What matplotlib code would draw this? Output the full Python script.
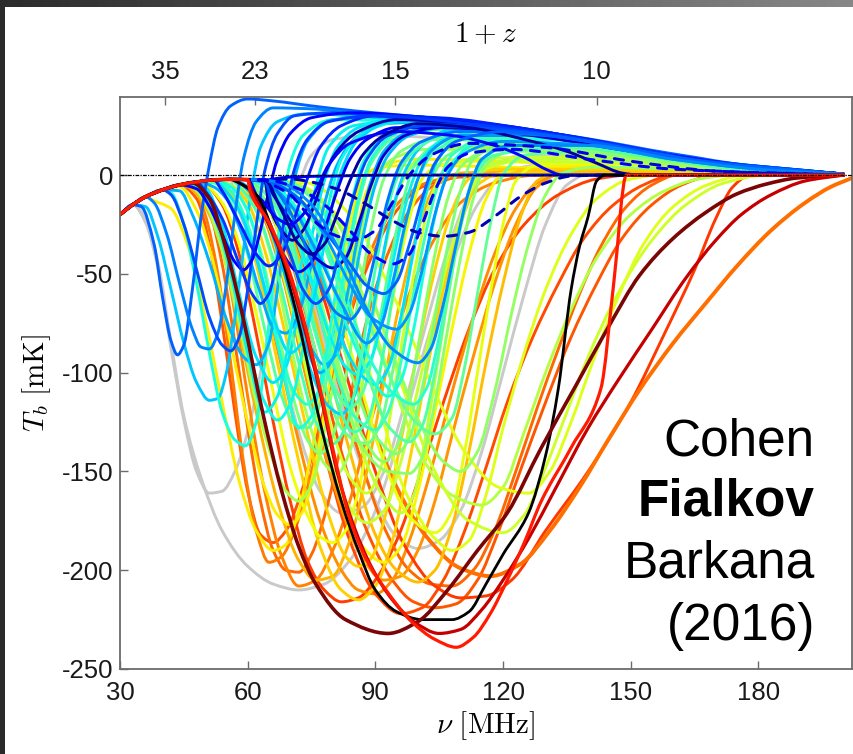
import numpy as np
import matplotlib
matplotlib.use("Agg")
import matplotlib.pyplot as plt
from matplotlib.path import Path
from matplotlib.patches import PathPatch

plt.rcParams['mathtext.fontset'] = 'cm'
plt.rcParams['axes.unicode_minus'] = False
plt.rcParams['font.family'] = ['Liberation Sans', 'DejaVu Sans']

# shared high-redshift part of every curve (nu [MHz], T_b [mK])
ENV_NU = [30, 33, 36, 40, 44, 48, 52, 56, 60, 64]
ENV_T = [-20, -15, -11, -7.5, -5, -3.5, -2.5, -2.2, -2.3, -2.6]

# each curve continues from the shared part with its own (nu, T_b) points
GRAY_CURVES = [
    [(36, -24), (39, -48), (42, -88), (45, -124), (48, -150), (51, -161), (54, -160), (57, -150), (60, -130),
     (63, -100), (66, -65), (69, -30), (72, -5), (75, 10), (80, 18), (90, 20), (110, 18), (130, 14), (150, 9),
     (170, 4), (200, 0.3)],
    [(36, -22), (39, -45), (42, -85), (45, -122), (49, -153), (54, -180), (60, -198), (66, -207), (72, -210),
     (78, -207), (84, -195), (90, -170), (96, -130), (102, -85), (108, -45), (114, -15), (120, 0), (128, 5),
     (150, 3), (200, 0)],
    [(66, -12), (72, -40), (78, -85), (84, -130), (90, -165), (95, -183), (100, -189), (105, -185), (110, -170),
     (115, -140), (120, -100), (125, -60), (130, -25), (135, -5), (142, 2), (160, 2), (200, 0)],
    [(57, -12), (62, -40), (67, -85), (72, -130), (77, -160), (82, -171), (87, -168), (92, -150), (97, -115),
     (102, -75), (107, -38), (112, -10), (117, 4), (125, 10), (145, 8), (170, 3), (200, 0)],
]

CYAN_CURVES = [
    [(36, -16), (39, -32), (42, -58), (45, -85), (48, -105), (51, -114), (53, -113), (55, -100), (57, -72),
     (59, -38), (61, -6), (63, 14), (67, 27), (74, 31), (90, 29), (110, 25), (130, 20), (150, 13), (170, 6),
     (200, 0.5)],
    [(42, -9), (45, -25), (48, -55), (51, -90), (54, -120), (57, -134), (59.5, -137), (62, -125), (64, -95),
     (66, -55), (68, -18), (70, 6), (73, 20), (80, 28), (100, 27), (120, 23), (140, 17), (160, 10), (180, 4),
     (200, 0.5)],
    [(50, -6), (54, -25), (58, -60), (62, -92), (66, -105), (69, -97), (72, -68), (75, -32), (78, -3), (81, 14),
     (86, 24), (95, 28.5), (115, 26), (135, 20), (155, 12), (175, 5), (200, 0.5)],
    [(56, -8), (60, -25), (64, -58), (68, -93), (71, -110), (74, -116), (77, -108), (80, -80), (83, -45),
     (86, -12), (89, 8), (94, 20), (102, 26), (120, 24), (140, 18), (160, 10), (180, 4), (200, 0.5)],
    [(61, -8), (65, -24), (70, -60), (75, -100), (79, -117), (82, -121), (85, -112), (88, -85), (91, -50),
     (94, -18), (97, 2), (101, 15), (108, 23), (125, 22), (145, 16), (165, 8), (200, 0.5)],
    [(66, -8), (70, -25), (75, -55), (80, -95), (85, -122), (90, -129), (93, -120), (96, -95), (99, -60),
     (102, -28), (105, -3), (108, 10), (115, 18), (130, 19), (150, 12), (170, 6), (200, 0.5)],
    [(52, -6), (55, -12), (59, -32), (63, -60), (66, -77), (69, -80), (72, -70), (75, -45), (78, -15), (81, 5),
     (85, 18), (92, 26), (110, 27), (130, 21), (150, 14), (170, 6), (200, 0.5)],
    [(58, -4), (61, -10), (66, -30), (71, -65), (75, -88), (78, -96), (81, -90), (84, -65), (87, -32), (90, -5),
     (93, 10), (98, 20), (110, 25), (130, 21), (150, 14), (170, 6), (200, 0.5)],
    [(66, -8), (71, -28), (76, -60), (80, -85), (83, -97), (86, -101), (89, -93), (92, -68), (95, -35),
     (98, -8), (101, 8), (106, 18), (115, 22), (135, 19), (155, 12), (175, 5), (200, 0.5)],
    [(44, -8), (47, -20), (51, -44), (55, -73), (59, -92), (62, -96), (65, -85), (67, -58), (69, -28), (71, -2),
     (74, 17), (80, 28), (95, 30), (115, 25.5), (135, 20), (155, 12), (175, 5), (200, 0.5)],
    [(48, -6), (52, -20), (56, -50), (60, -88), (64, -115), (67, -124), (70, -116), (73, -88), (76, -50),
     (79, -15), (82, 8), (87, 21), (96, 27), (115, 25), (135, 19), (155, 11), (175, 5), (200, 0.5)],
    [(66, -5), (72, -20), (78, -55), (83, -88), (87, -102), (90, -106), (93, -98), (96, -72), (99, -38),
     (102, -8), (105, 9), (110, 18), (125, 20), (145, 15), (165, 8), (200, 0.4)],
    [(68, -5), (75, -20), (82, -55), (88, -90), (94, -110), (99, -116), (102, -108), (105, -82), (108, -48),
     (111, -16), (114, 4), (120, 14), (135, 16), (155, 10), (175, 4), (200, 0.3)],
    [(58, -6), (62, -18), (67, -50), (72, -95), (76, -125), (80, -136), (83, -128), (86, -100), (89, -60),
     (92, -25), (95, -2), (99, 12), (107, 20), (125, 20), (145, 14), (165, 7), (200, 0.4)],
    [(56, -6), (60, -18), (64, -50), (68, -95), (72, -128), (75, -122), (78, -95), (81, -55), (84, -18), (87, 6),
     (92, 20), (100, 26), (120, 24), (140, 18), (160, 10), (180, 4), (200, 0.5)],
    [(60, -6), (64, -20), (68, -45), (72, -75), (77, -100), (80, -93), (83, -65), (86, -30), (89, -3), (92, 12),
     (98, 22), (110, 26), (130, 21), (150, 14), (170, 6), (200, 0.5)],
    [(64, -6), (69, -25), (74, -62), (79, -102), (85, -130), (88, -125), (91, -100), (94, -62), (97, -26),
     (100, -2), (104, 12), (112, 19), (130, 19), (150, 12), (170, 5), (200, 0.4)],
    [(66, -5), (72, -18), (78, -45), (84, -80), (89, -103), (93, -112), (96, -104), (99, -78), (102, -42),
     (105, -12), (108, 6), (114, 16), (130, 18), (150, 12), (170, 5), (200, 0.4)],
    [(68, -5), (75, -22), (82, -60), (88, -100), (93, -127), (98, -135), (101, -127), (104, -100), (107, -62),
     (110, -26), (113, -2), (118, 10), (135, 14), (155, 9), (175, 3), (200, 0.3)],
    [(54, -6), (58, -18), (62, -42), (66, -72), (70, -90), (73, -84), (76, -58), (79, -24), (82, 2), (86, 18),
     (94, 27), (110, 27), (130, 21), (150, 14), (170, 6), (200, 0.5)],
    [(48, -6), (52, -18), (56, -48), (60, -90), (64, -120), (67, -112), (70, -80), (73, -40), (76, -6), (79, 14),
     (85, 25), (100, 28), (120, 24), (140, 18), (160, 10), (180, 4), (200, 0.5)],
    [(64, -4), (70, -15), (76, -38), (82, -65), (88, -85), (91, -78), (94, -55), (97, -25), (100, -2), (103, 12),
     (110, 20), (130, 20), (150, 13), (170, 6), (200, 0.4)],
]
CYAN_SHADES = [0.32, 0.38, 0.35, 0.40, 0.33, 0.42, 0.29, 0.31, 0.36, 0.30, 0.37, 0.34, 0.40, 0.44,
               0.38, 0.30, 0.43, 0.38, 0.45, 0.34, 0.36, 0.27]

GREEN_CURVES = [
    [(62, -7), (67, -22), (72, -55), (77, -98), (82, -128), (85, -134), (88, -136), (91, -127), (94, -100),
     (97, -62), (100, -28), (103, -3), (107, 10), (115, 16), (135, 15), (155, 9), (175, 4), (200, 0.3)],
    [(56, -5), (59, -14), (63, -38), (67, -78), (71, -115), (74, -134), (77, -141), (80, -132), (83, -103),
     (86, -63), (89, -27), (92, -2), (96, 12), (104, 18), (120, 17), (140, 12), (160, 6), (200, 0.3)],
    [(58, -6), (62, -18), (66, -45), (70, -85), (74, -122), (78, -146), (81, -151), (84, -140), (87, -105),
     (90, -65), (93, -30), (96, -5), (100, 8), (108, 14), (125, 14), (145, 9), (165, 4), (200, 0.2)],
    [(66, -6), (72, -24), (77, -62), (82, -105), (87, -138), (93, -150), (98, -151), (101, -143), (104, -115),
     (107, -78), (110, -42), (113, -12), (116, 5), (122, 12), (140, 12), (160, 7), (180, 3), (200, 0.3)],
    [(52, -4), (56, -14), (60, -40), (64, -78), (68, -112), (71, -126), (74, -128), (77, -116), (80, -88),
     (83, -50), (86, -15), (89, 6), (94, 18), (105, 23), (125, 21), (145, 15), (165, 8), (200, 0.4)],
    [(66, -5), (73, -22), (79, -60), (85, -105), (90, -132), (95, -141), (98, -133), (101, -108), (104, -72),
     (107, -36), (110, -8), (113, 8), (120, 15), (140, 14), (160, 8), (180, 3), (200, 0.3)],
    [(70, -4), (78, -20), (86, -60), (93, -100), (99, -124), (104, -131), (108, -123), (111, -97), (114, -60),
     (117, -25), (120, 0), (125, 10), (140, 12), (160, 7), (180, 3), (200, 0.2)],
    [(62, -5), (67, -18), (72, -50), (77, -88), (81, -110), (84, -118), (87, -110), (90, -85), (93, -50),
     (96, -18), (99, 4), (104, 15), (115, 20), (135, 18), (155, 11), (175, 5), (200, 0.3)],
    [(64, -5), (70, -20), (76, -58), (82, -100), (87, -132), (92, -145), (95, -138), (98, -112), (101, -75),
     (104, -40), (107, -12), (110, 4), (116, 12), (135, 13), (155, 8), (175, 3), (200, 0.2)],
]
GREEN_SHADES = [0.48, 0.50, 0.55, 0.52, 0.46, 0.50, 0.47, 0.46, 0.52]

LIME_CURVES = [
    [(62, -8), (66, -22), (70, -50), (75, -90), (80, -130), (84, -153), (88, -161), (91, -150), (94, -115),
     (97, -75), (100, -40), (103, -12), (106, 2), (112, 8), (130, 9), (150, 6), (170, 2.5), (200, 0.2)],
    [(66, -6), (69, -18), (74, -45), (80, -90), (86, -135), (92, -163), (96, -171), (99, -162), (102, -130),
     (105, -90), (108, -50), (111, -18), (114, 1), (120, 7), (135, 8), (155, 5), (175, 2), (200, 0.2)],
    [(66, -6), (71, -16), (78, -45), (85, -95), (92, -145), (98, -173), (104, -181), (108, -170), (111, -140),
     (114, -100), (117, -60), (120, -25), (123, -3), (128, 5), (145, 6), (165, 3), (200, 0)],
    [(68, -6), (75, -18), (82, -52), (90, -110), (97, -160), (104, -184), (108, -190), (112, -185), (116, -162),
     (120, -128), (125, -90), (130, -58), (136, -30), (142, -12), (150, -2), (160, 0.5), (200, 0)],
    [(70, -5), (78, -18), (86, -55), (94, -105), (101, -143), (108, -162), (115, -167), (120, -158), (125, -130),
     (130, -100), (136, -68), (142, -42), (150, -20), (158, -8), (166, -2), (175, 0), (200, 0)],
    [(72, -5), (80, -18), (88, -55), (96, -105), (104, -150), (112, -175), (120, -181), (125, -172), (130, -148),
     (135, -120), (140, -92), (147, -60), (155, -33), (163, -15), (172, -4), (182, 0), (200, 0)],
    [(46, -5), (50, -14), (54, -38), (58, -75), (62, -115), (66, -145), (69, -160), (72, -165), (75, -157),
     (78, -130), (81, -95), (84, -57), (87, -25), (90, -3), (94, 8), (102, 13), (120, 13), (140, 9), (160, 4),
     (200, 0.2)],
    [(60, -6), (64, -20), (68, -48), (73, -92), (78, -135), (83, -165), (88, -176), (92, -170), (96, -145),
     (100, -108), (104, -70), (108, -36), (112, -10), (116, 3), (124, 7), (145, 6), (165, 3), (200, 0)],
    [(74, -4), (84, -20), (94, -60), (103, -105), (111, -140), (119, -158), (126, -161), (131, -150),
     (136, -125), (141, -95), (147, -62), (153, -35), (160, -16), (168, -5), (176, -0.5), (200, 0)],
    [(70, -4), (78, -15), (86, -45), (94, -90), (101, -128), (106, -145), (110, -150), (114, -140), (118, -110),
     (122, -70), (126, -35), (130, -10), (134, 1), (142, 4), (160, 3), (200, 0)],
]
LIME_SHADES = [0.60, 0.58, 0.63, 0.62, 0.57, 0.60, 0.55, 0.59, 0.62, 0.53]

YELLOW_CURVES = [
    [(38, -13), (42, -17), (46, -36), (50, -72), (54, -115), (58, -155), (62, -180), (66, -190), (69, -187),
     (72, -170), (75, -140), (78, -100), (81, -60), (84, -25), (87, -2), (91, 4), (100, 5), (120, 4),
     (150, 1.5), (200, 0)],
    [(46, -6), (50, -16), (54, -38), (58, -78), (62, -120), (67, -165), (72, -195), (76, -205), (80, -203),
     (84, -185), (88, -150), (92, -105), (96, -62), (100, -28), (104, -6), (110, 1), (130, 2), (160, 1), (200, 0)],
    [(54, -5), (58, -15), (62, -45), (67, -95), (72, -145), (77, -188), (82, -210), (86, -215), (90, -208),
     (94, -185), (98, -145), (102, -100), (106, -58), (110, -25), (114, -5), (120, 1), (140, 1.5), (170, 0.5),
     (200, 0)],
    [(58, -5), (62, -13), (67, -38), (72, -80), (77, -125), (82, -163), (87, -188), (92, -196), (96, -188),
     (100, -160), (104, -120), (108, -78), (112, -40), (116, -12), (120, 1), (128, 4), (150, 3), (175, 1),
     (200, 0)],
    [(50, -5), (54, -14), (58, -35), (62, -70), (66, -110), (70, -148), (74, -172), (77, -183), (80, -186),
     (83, -180), (86, -160), (89, -125), (92, -88), (95, -52), (98, -22), (101, -2), (105, 5), (115, 7),
     (135, 6), (160, 2), (200, 0)],
    [(62, -5), (67, -16), (72, -42), (78, -90), (84, -140), (90, -182), (95, -200), (100, -206), (104, -200),
     (108, -178), (112, -140), (116, -95), (120, -55), (124, -22), (128, -3), (134, 2), (155, 1.5), (200, 0)],
    [(44, -6), (48, -18), (52, -45), (56, -85), (60, -125), (64, -158), (67, -172), (70, -177), (73, -170),
     (76, -145), (79, -108), (82, -70), (85, -35), (88, -8), (92, 5), (100, 8), (120, 7), (145, 4), (170, 1.5),
     (200, 0)],
    [(56, -5), (60, -14), (64, -38), (69, -82), (74, -130), (79, -172), (83, -193), (86, -198), (89, -194),
     (92, -175), (96, -135), (100, -88), (104, -48), (108, -18), (112, -2), (118, 3), (140, 3), (170, 1),
     (200, 0)],
]
YELLOW_SHADES = [0.66, 0.72, 0.69, 0.65, 0.64, 0.71, 0.66, 0.69]

ORANGE_CURVES = [
    [(44, -5), (48, -12), (51, -35), (54, -75), (57, -120), (60, -160), (63, -182), (66, -186), (69, -180),
     (73, -158), (78, -118), (83, -78), (89, -42), (95, -18), (101, -6), (110, -1), (130, 0), (200, 0)],
    [(48, -6), (51, -18), (54, -45), (57, -85), (60, -128), (63, -165), (66, -190), (69, -200), (72, -201),
     (75, -192), (79, -165), (83, -125), (87, -82), (92, -45), (98, -18), (104, -5), (112, 0), (200, 0)],
    [(47, -6), (50, -20), (53, -50), (56, -95), (59, -145), (62, -180), (65, -196), (68, -193), (71, -180),
     (75, -150), (79, -110), (84, -70), (89, -38), (95, -15), (102, -4), (112, 0), (200, 0)],
    [(50, -5), (54, -15), (58, -40), (62, -80), (66, -125), (70, -165), (74, -195), (78, -210), (82, -216),
     (86, -214), (90, -205), (95, -185), (100, -155), (106, -115), (112, -78), (118, -48), (125, -25),
     (133, -10), (142, -2), (150, 0), (200, 0)],
    [(54, -5), (58, -16), (62, -42), (67, -88), (72, -135), (77, -175), (82, -200), (86, -210), (90, -212),
     (94, -205), (98, -185), (103, -150), (108, -110), (113, -72), (118, -40), (123, -17), (128, -4), (135, 1),
     (160, 1), (200, 0)],
    [(65, -15), (70, -42), (76, -90), (82, -140), (88, -180), (94, -205), (99, -216), (104, -219), (109, -217),
     (114, -205), (119, -180), (124, -150), (130, -115), (136, -82), (142, -55), (148, -32), (155, -15),
     (162, -5), (170, 0), (200, 0)],
    [(68, -18), (74, -50), (80, -95), (86, -140), (92, -178), (98, -200), (103, -207), (108, -208), (113, -200),
     (118, -180), (123, -150), (128, -118), (133, -88), (138, -60), (143, -36), (149, -16), (155, -5), (161, 0),
     (200, 0)],
    [(48, -5), (51, -14), (54, -35), (57, -70), (60, -112), (64, -160), (68, -193), (72, -208), (76, -205),
     (80, -190), (84, -165), (88, -132), (93, -95), (98, -60), (104, -32), (110, -14), (118, -4), (128, 0),
     (200, 0)],
    [(58, -5), (62, -14), (67, -40), (72, -85), (78, -140), (84, -185), (90, -212), (96, -222), (101, -219),
     (106, -205), (111, -180), (116, -148), (121, -115), (127, -82), (133, -55), (139, -32), (146, -15),
     (153, -5), (160, 0), (200, 0)],
    [(58, -5), (63, -18), (68, -50), (74, -105), (80, -155), (86, -190), (92, -205), (96, -203), (100, -190),
     (104, -165), (108, -132), (113, -92), (118, -55), (123, -25), (128, -6), (134, 1), (160, 1), (200, 0)],
    [(66, -5), (70, -18), (76, -50), (83, -100), (90, -150), (97, -188), (104, -208), (110, -214), (116, -213),
     (122, -205), (130, -180), (140, -150), (150, -115), (158, -80), (165, -48), (170, -22), (174, -6),
     (178, 0), (200, 0)],
]
ORANGE_SHADES = [0.82, 0.80, 0.78, 0.84, 0.76, 0.82, 0.80, 0.77, 0.83, 0.75, 0.85]

# the broad orange curve with the slowest recovery
WIDE_ORANGE = [(67, -10), (73, -30), (80, -70), (88, -120), (95, -158), (102, -183), (110, -199), (117, -203),
               (124, -197), (131, -180), (138, -158), (145, -133), (152, -109), (160, -85), (167.6, -65),
               (175, -46), (183, -28), (191, -14), (197, -6), (202, -1.5)]

BLUE_CURVES = [
    [(35, -16), (38, -35), (40, -62), (42, -84), (43.5, -91), (45, -86), (47, -58), (49, -22), (51, 5),
     (53, 24), (56, 35), (60, 38.5), (66, 37.5), (75, 35), (85, 32.5), (95, 30.5), (105, 28.5), (115, 26),
     (125, 23), (135, 20), (145, 16.5), (155, 12.5), (165, 9), (175, 5.5), (185, 3), (200, 0.6)],
    [(38, -14), (41, -30), (44, -55), (47, -78), (49, -87), (51, -88), (53, -80), (55, -55), (57, -20), (59, 8),
     (62, 27), (66, 34), (75, 33.5), (90, 30), (110, 25.5), (130, 20), (150, 13), (170, 6.5), (200, 0.5)],
    [(42, -10), (45, -25), (48, -48), (51, -72), (54, -86), (56, -89), (58, -82), (60, -58), (62, -26), (64, 2),
     (67, 21), (71, 30), (80, 31.5), (95, 29), (115, 24), (135, 19), (155, 11.5), (175, 5), (200, 0.5)],
    [(48, -7), (51, -16), (54, -30), (57, -44), (59, -48), (61, -43), (63, -28), (65, -8), (67, 8), (70, 21),
     (75, 29), (85, 31.5), (100, 29.5), (120, 25), (140, 18), (160, 10), (180, 4), (200, 0.5)],
    [(65, -15), (68, -28), (70.5, -33), (73, -28), (76, -13), (78, 0), (81, 12), (86, 22), (95, 28), (110, 26.5),
     (130, 20.5), (150, 13), (170, 6), (200, 0.5)],
    [(62, -10), (64, -20), (68, -39), (72, -49), (75, -44), (78, -28), (81, -8), (84, 8), (88, 18), (95, 24),
     (110, 24), (130, 19), (150, 12), (170, 6), (200, 0.5)],
    [(54, -8), (58, -24), (62, -40), (65, -46), (68, -40), (71, -22), (74, -2), (77, 14), (82, 25), (90, 30),
     (105, 29), (125, 23.5), (145, 16), (165, 8), (200, 0.5)],
    [(66, -10), (71, -26), (76, -42), (80, -47), (83, -42), (86, -25), (89, -5), (92, 10), (97, 20), (105, 24),
     (120, 22), (140, 16), (160, 9), (180, 3.5), (200, 0.5)],
    [(50, -8), (54, -22), (58, -45), (61, -60), (63, -65), (65, -60), (67, -42), (69, -18), (71, 3), (74, 18),
     (79, 27), (90, 30), (110, 26.5), (130, 21), (150, 14), (170, 6), (200, 0.5)],
    [(66, -18), (70, -40), (73, -58), (76, -65), (79, -58), (82, -35), (85, -10), (88, 8), (93, 20), (102, 25),
     (120, 23), (140, 17), (160, 9), (200, 0.4)],
    [(69, -15), (74, -38), (78, -60), (81, -70), (84, -73), (87, -65), (90, -40), (93, -12), (96, 6), (101, 17),
     (110, 22), (130, 20), (150, 13), (170, 6), (200, 0.4)],
    [(72, -12), (78, -30), (84, -55), (89, -72), (95, -78), (98, -70), (101, -48), (104, -20), (107, 0),
     (111, 11), (120, 17), (140, 15), (160, 8), (180, 3), (200, 0.3)],
    [(58, -4), (63, -12), (67, -22), (70, -25), (73, -20), (76, -8), (79, 5), (84, 16), (95, 22), (108, 20),
     (118, 15), (125, 9), (130, 3), (134, 0), (200, 0)],
    [(68, -18), (72, -35), (75, -40), (78, -35), (81, -20), (84, -3), (87, 10), (92, 20), (100, 26), (112, 24),
     (125, 18), (135, 12), (142, 6), (148, 1), (152, 0), (200, 0)],
    [(66, -2), (70, -1), (80, -0.5), (95, 0), (200, 0)],
    [(66, -4), (72, -12), (78, -28), (84, -45), (88, -56), (92, -60), (95, -54), (98, -35), (101, -12), (104, 6),
     (109, 17), (120, 22), (140, 17), (160, 9), (180, 3.5), (200, 0.4)],
    [(68, -4), (75, -15), (82, -40), (88, -68), (94, -88), (100, -95), (103, -88), (106, -65), (109, -35),
     (112, -8), (115, 8), (122, 15), (140, 15), (160, 8), (180, 3), (200, 0.3)],
]
BLUE_SHADES = [0.22, 0.25, 0.20, 0.12, 0.04, 0.10, 0.16, 0.07, 0.18, 0.20, 0.24, 0.27, 0.13, 0.03, 0.09,
               0.22, 0.26]

DASHED_CURVES = [
    [(70, -2), (76, -4), (82, -8), (88, -15), (94, -23), (100, -29), (106, -31), (112, -29), (118, -21),
     (124, -11), (130, -4), (136, -0.5), (145, 0), (200, 0)],
    [(66, -3), (72, -7), (78, -15), (84, -28), (89, -40), (94, -45), (98, -40), (101, -25), (104, -8), (107, 4),
     (112, 11), (122, 13), (140, 8), (160, 3), (200, 0)],
    [(66, -5), (70, -10), (75, -22), (80, -30), (85, -33), (90, -28), (94, -14), (98, 0), (103, 10), (112, 16),
     (130, 14), (150, 7), (170, 2), (200, 0)],
]
DASHED_SHADES = [0.05, 0.12, 0.09]

BLACK_CURVE = [(57, -3), (62, -10), (67, -35), (72, -75), (77, -125), (82, -165), (86, -190), (90, -210),
               (95, -221), (101, -225), (108, -225), (112, -221), (116, -207), (120, -192), (126, -171),
               (130, -142), (133, -108), (136, -58), (138, -36), (140, -21), (142, -3), (144, 0), (200, 0)]

DARK_RED_CURVE = [(47, -4), (51, -12), (55, -38), (59, -73), (63.5, -120), (68, -160), (72, -188), (76, -207),
                  (83, -225), (93, -232), (100, -226), (107, -210), (114, -190), (121, -171), (129, -138),
                  (137, -107), (145, -76), (152, -51), (160, -32), (167.6, -19), (175, -9.5), (182, -4.5),
                  (189, -1.5), (200, 0)]

RED_CURVES = [
    [(61, -8), (65, -25), (69, -46), (73, -75), (77, -110), (81, -150), (85, -178), (89, -198), (94, -215),
     (99, -226), (105, -232), (110, -230), (115, -220), (120, -205), (126, -184), (132, -160), (140, -128),
     (147, -104), (155, -78), (163, -52), (170, -33), (176, -20), (183, -10), (191, -3), (200, 0)],
    [(60.5, -7.6), (65, -24), (69, -44), (73, -72), (77, -108), (81, -148), (84, -174), (88, -195),
     (92.5, -210), (98.5, -226), (104, -235), (109, -239), (113, -234), (117, -222), (121, -205), (125, -186),
     (129, -165), (136, -138), (143, -108), (146, -55), (149, 0), (200, 0)],
]
RED_SHADES = [0.94, 0.88]

Z_TICKS = [35, 23, 15, 10]
NU_21CM = 1420.4


def full_curve(points):
    """Prepend the shared high-redshift part to a curve's own points."""
    start = points[0][0]
    nu = [n for n in ENV_NU if n < start] + [p[0] for p in points]
    tb = [t for n, t in zip(ENV_NU, ENV_T) if n < start] + [p[1] for p in points]
    return np.array(nu, float), np.array(tb, float)


def smooth_path(x, y):
    """Monotone cubic (PCHIP) Bezier path through the points, no overshoot."""
    h = np.diff(x)
    d = np.diff(y) / h
    m = np.zeros_like(y)
    m[0], m[-1] = d[0], d[-1]
    for k in range(1, len(x) - 1):
        if d[k - 1] * d[k] > 0:
            w1 = 2 * h[k] + h[k - 1]
            w2 = h[k] + 2 * h[k - 1]
            m[k] = (w1 + w2) / (w1 / d[k - 1] + w2 / d[k])
    verts = [(x[0], y[0])]
    codes = [Path.MOVETO]
    for k in range(len(x) - 1):
        verts += [(x[k] + h[k] / 3, y[k] + m[k] * h[k] / 3),
                  (x[k + 1] - h[k] / 3, y[k + 1] - m[k + 1] * h[k] / 3),
                  (x[k + 1], y[k + 1])]
        codes += [Path.CURVE4] * 3
    return Path(verts, codes)


def draw(ax, curves, colors, lw=2.1, ls='-'):
    for pts, col in zip(curves, colors):
        nu, tb = full_curve(pts)
        ax.add_patch(PathPatch(smooth_path(nu, tb), fill=False, edgecolor=col, lw=lw, ls=ls,
                               capstyle='round', joinstyle='round'))


W, H = 854, 754
fig = plt.figure(figsize=(W / 100, H / 100), dpi=100)
fig.patch.set_facecolor('white')

# dark frame strips along the top and left edges
band = fig.add_axes([0, 1 - 7 / H, 1, 7 / H])
band.imshow(np.linspace(0.17, 0.53, 256)[None, :], cmap='gray', vmin=0, vmax=1, aspect='auto')
band.axis('off')
side = fig.add_axes([0, 0, 5 / W, 1])
side.set_facecolor('#2a2a2a')
side.set_xticks([])
side.set_yticks([])
for s in side.spines.values():
    s.set_visible(False)

ax = fig.add_axes([120 / W, 85 / H, 732 / W, 572 / H])
jet = plt.get_cmap('jet')

draw(ax, GRAY_CURVES, ['#c9c9c9'] * len(GRAY_CURVES))
draw(ax, ORANGE_CURVES, [jet(s) for s in ORANGE_SHADES])
draw(ax, [WIDE_ORANGE], [jet(0.79)], lw=2.8)
draw(ax, YELLOW_CURVES, [jet(s) for s in YELLOW_SHADES])
draw(ax, LIME_CURVES, [jet(s) for s in LIME_SHADES])
draw(ax, GREEN_CURVES, [jet(s) for s in GREEN_SHADES])
draw(ax, CYAN_CURVES, [jet(s) for s in CYAN_SHADES])
draw(ax, BLUE_CURVES, [jet(s) for s in BLUE_SHADES])
draw(ax, DASHED_CURVES, [jet(s) for s in DASHED_SHADES], lw=2.2, ls=(0, (3, 3)))
draw(ax, [BLACK_CURVE], ['black'], lw=2.0)
draw(ax, [DARK_RED_CURVE], ['#7a0505'], lw=2.6)
draw(ax, RED_CURVES, [jet(s) for s in RED_SHADES], lw=2.3)

ax.axhline(0, color='black', lw=0.9, ls=(0, (3, 1, 1, 1)), zorder=5)

ax.set_xlim(30, 202)
ax.set_ylim(-250, 39.5)
ax.set_xticks([30, 60, 90, 120, 150, 180])
ax.set_yticks([-250, -200, -150, -100, -50, 0])

frame = '#6b6b6b'
for s in ax.spines.values():
    s.set_color(frame)
    s.set_linewidth(1.3)
ax.tick_params(direction='in', length=6, width=1, color=frame, labelsize=18.5, labelcolor='#1a1a1a',
               top=False, right=False)
ax.tick_params(axis='x', pad=9)
ax.tick_params(axis='y', pad=5)

top = ax.secondary_xaxis('top', functions=(lambda nu: NU_21CM / np.asarray(nu, dtype=float),
                                           lambda z1: NU_21CM / np.asarray(z1, dtype=float)))
top.set_xticks(Z_TICKS)
top.set_xticklabels([str(z) for z in Z_TICKS])
top.tick_params(direction='in', length=6, width=1, color=frame, labelsize=18.5, labelcolor='#1a1a1a', pad=9)
top.spines['top'].set_visible(False)
top.set_xlabel(r'$1+z$', fontsize=21, labelpad=13)

ax.set_xlabel(r'$\nu\ [\mathrm{MHz}]$', fontsize=21, labelpad=3)
ax.set_ylabel(r'$T_b\ [\mathrm{mK}]$', fontsize=21, labelpad=6)

for txt, y, wt in [('Cohen', 455, 'normal'), ('Fialkov', 515, 'bold'),
                   ('Barkana', 578, 'normal'), ('(2016)', 640, 'normal')]:
    fig.text(815 / W, 1 - y / H, txt, ha='right', va='baseline', fontsize=37, fontweight=wt,
             family=['Liberation Sans', 'DejaVu Sans'], color='black')

fig.savefig('out.png', dpi=100, facecolor='white')
